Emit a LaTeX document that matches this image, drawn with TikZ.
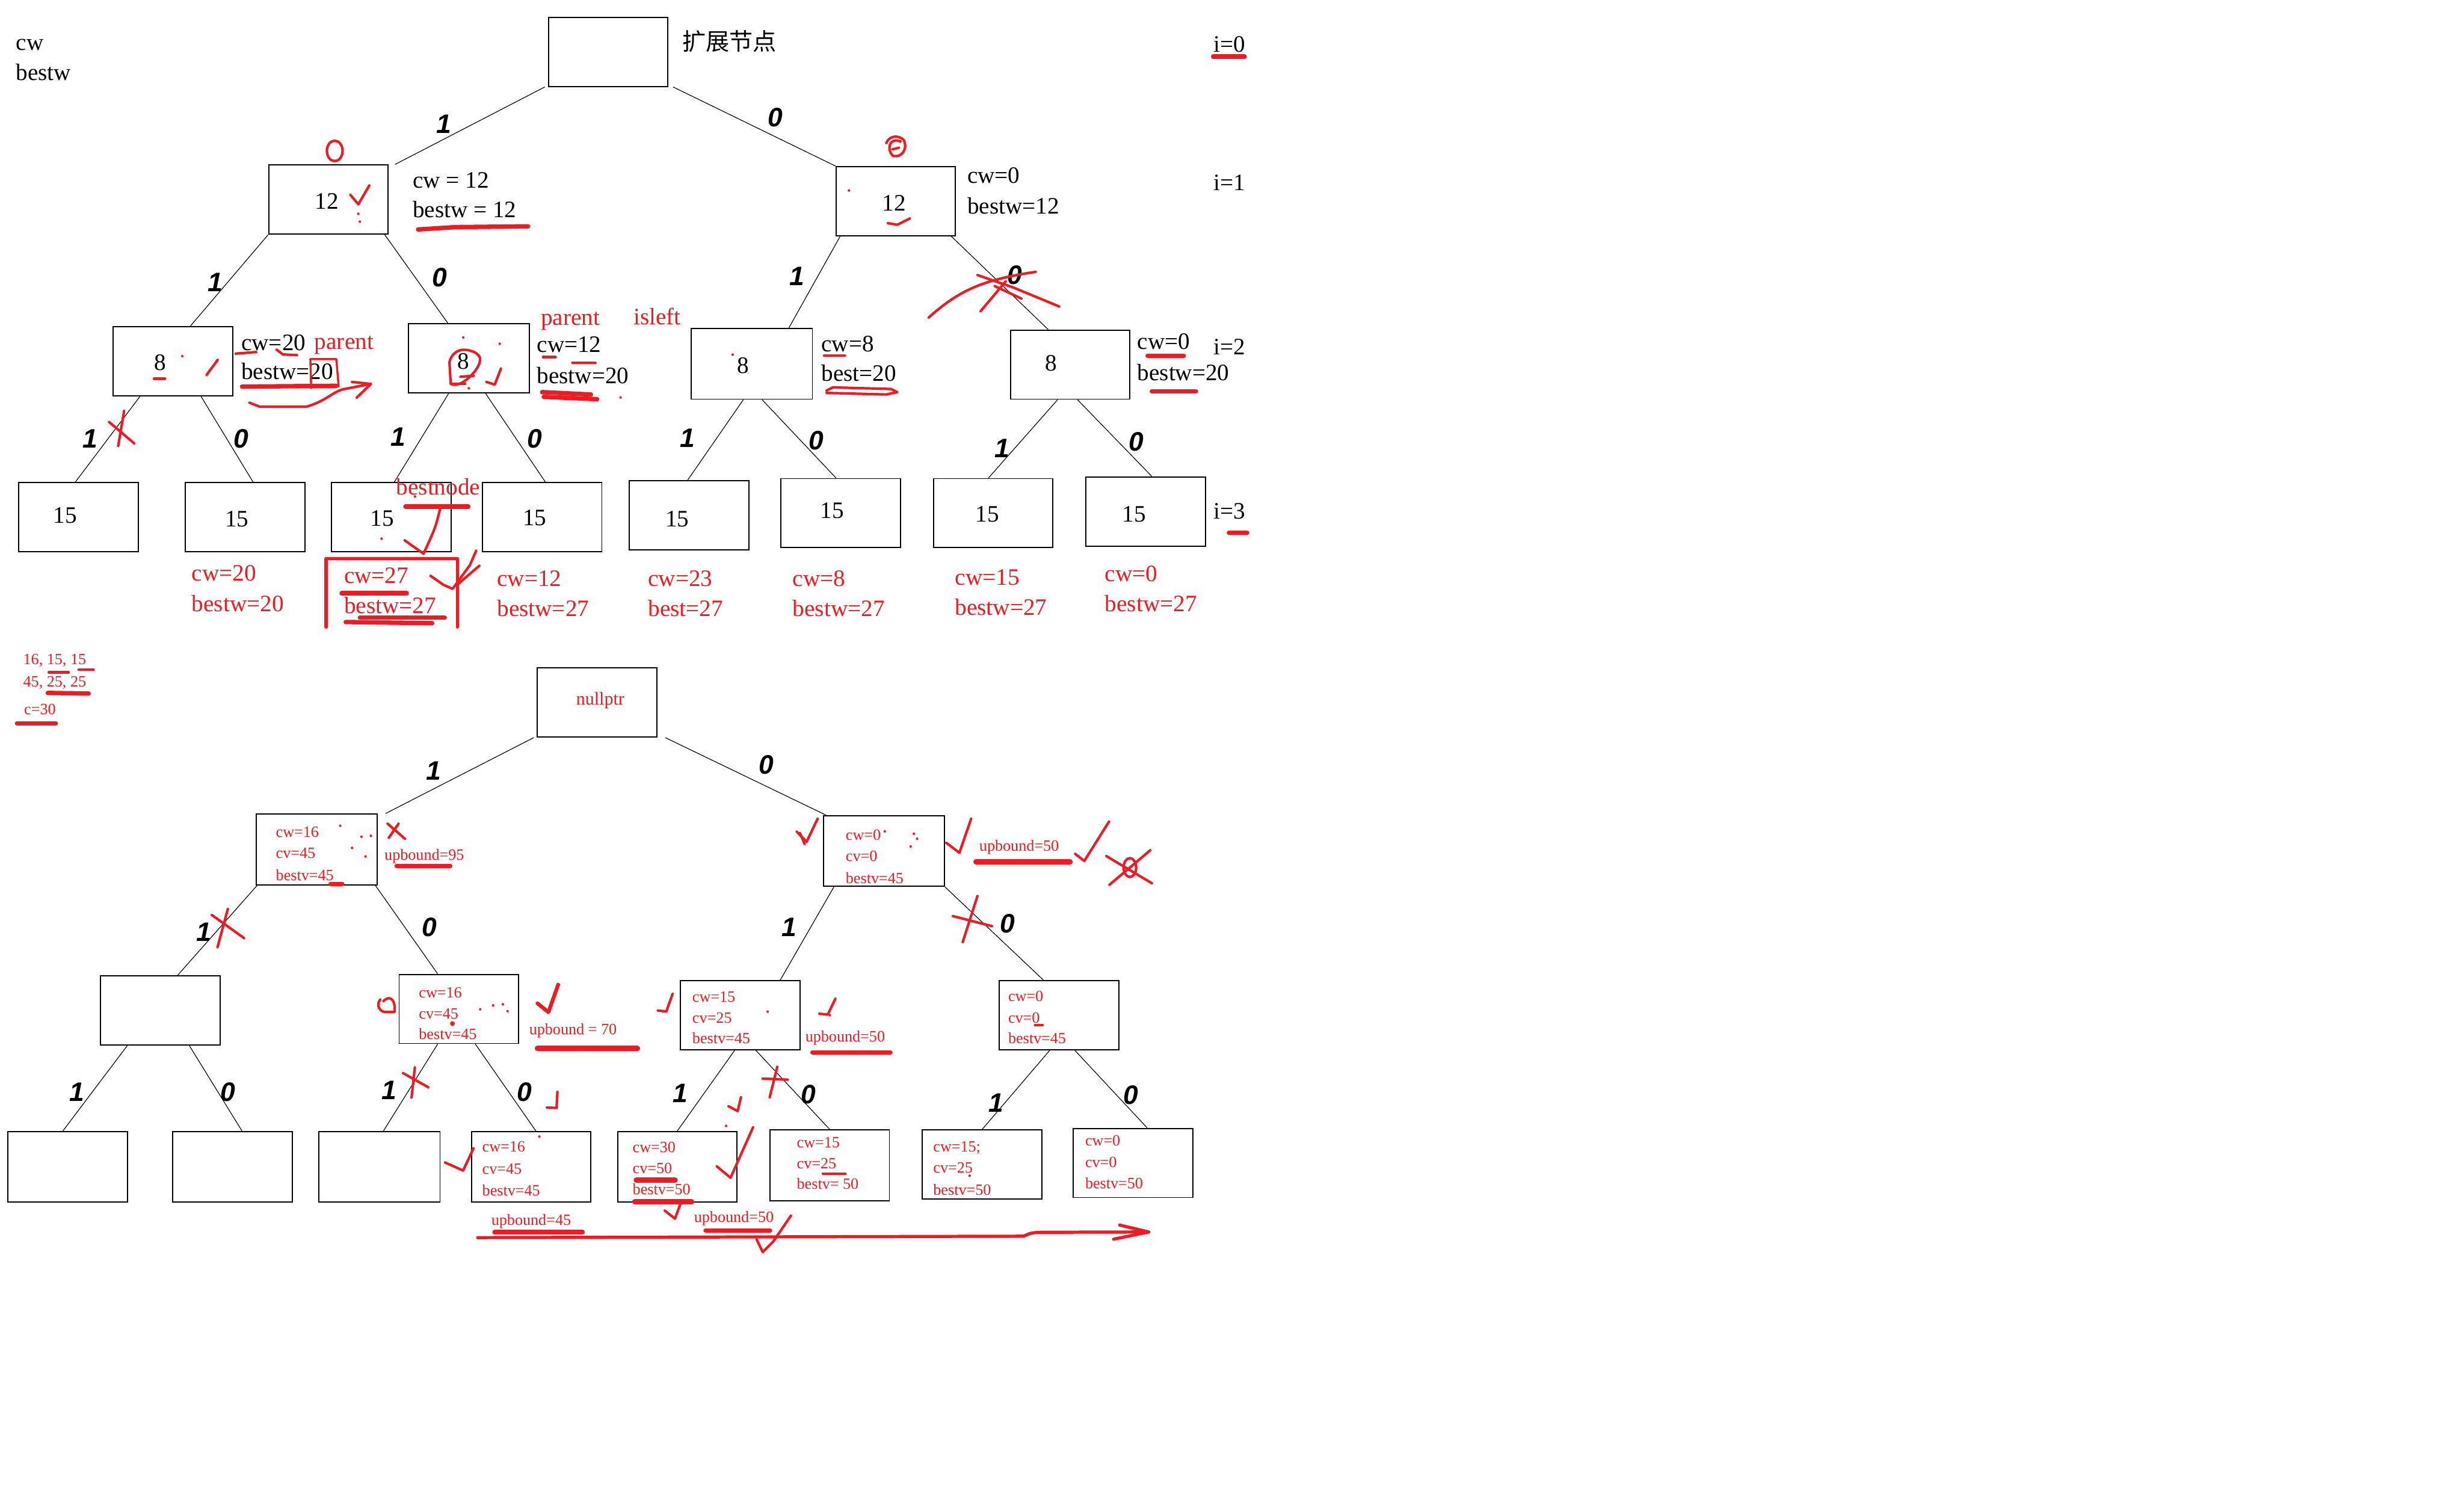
\documentclass[tikz,border=0pt]{standalone}
\usepackage{fontspec}
\setmainfont{Liberation Serif}
\newfontfamily\cjkfont{Noto Sans CJK SC}
\newfontfamily\bitfont{Liberation Sans}
\definecolor{pred}{RGB}{237,28,36}
\tikzset{
  box/.style={draw, line width=0.7pt, minimum width=76pt, minimum height=44pt, inner sep=0pt},
  wide/.style={minimum width=77pt, minimum height=45pt},
  num/.style={anchor=base, yshift=-5pt, inner sep=0pt, font=\fontsize{15}{18}\selectfont},
  note/.style={anchor=base west, yshift=-5pt, inner sep=0pt, font=\fontsize{15}{18}\selectfont},
  rnote/.style={note, text=pred},
  rsmall/.style={anchor=base west, yshift=-3.4pt, inner sep=0pt, text=pred, font=\fontsize{10}{12}\selectfont},
  bit/.style={anchor=base, yshift=-6pt, inner sep=0pt, font=\bitfont\bfseries\itshape\fontsize{17}{20}\selectfont},
  branch/.style={line width=0.45pt},
  ink/.style={draw=pred, line width=1.6pt, line cap=round, line join=round},
  fat/.style={ink, line width=2.8pt},
}

\begin{document}
\begin{tikzpicture}[x=1pt,y=-1pt]
  \useasboundingbox (0,0) rectangle (1568,951);

  % ---------- first tree: cw / bestw ----------
  \node[note] (cwhead) at (10,27) {cw};
  \node[note] (bwhead) at (10,46) {bestw};
  \node[note] (ext) at (434,27) {\cjkfont 扩展节点};
  \node[note] (i0) at (772,28) {i=0};
  \node[note] (i1) at (772,116) {i=1};
  \node[note] (i2) at (772,220.5) {i=2};
  \node[note] (i3) at (772,325) {i=3};

  \node[box] (root) at (387,33) {};
  \node[box] (l1) at (209,127) {};
  \node[box] (r1) at (570,128) {};
  \node[box] (a) at (110,230) {};
  \node[box,minimum width=77pt] (b) at (298.5,228) {};
  \node[box,wide] (c) at (478.5,231.5) {};
  \node[box] (d) at (681,232) {};
  \node[box] (a3) at (50,329) {};
  \node[box] (b3) at (156,329) {};
  \node[box] (c3) at (249,329) {};
  \node[box] (d3) at (345,329) {};
  \node[box] (e3) at (438.5,328) {};
  \node[box] (f3) at (535,326.5) {};
  \node[box] (g3) at (632,326.5) {};
  \node[box] (h3) at (729,325.5) {};

  \node[num] (l1v) at (208,128) {12};
  \node[num] (r1v) at (569,129) {12};
  \node[num] (av) at (102,230.5) {8};
  \node[num] (bv) at (295,230) {8};
  \node[num] (cv) at (473,232.5) {8};
  \node[num] (dv) at (669,231) {8};
  \node[num] (a3v) at (41.4,328) {15};
  \node[num] (b3v) at (150.7,330) {15};
  \node[num] (c3v) at (243.3,329.6) {15};
  \node[num] (d3v) at (340.2,329.3) {15};
  \node[num] (e3v) at (431,330) {15};
  \node[num] (f3v) at (529.6,324.7) {15};
  \node[num] (g3v) at (628.4,327.2) {15};
  \node[num] (h3v) at (721.6,327.2) {15};

  \draw[branch] ([xshift=-2pt]root.south west) -- ([xshift=4pt]l1.north east);
  \draw[branch] ([xshift=3pt]root.south east) -- (r1.north west);
  \draw[branch] (l1.south west) -- ([xshift=11pt]a.north);
  \draw[branch] ([xshift=-2.5pt]l1.south east) -- ([xshift=-13.5pt]b.north);
  \draw[branch] ([xshift=3pt]r1.south west) -- ([xshift=23.5pt]c.north);
  \draw[branch] ([xshift=-3pt]r1.south east) -- ([xshift=-14pt]d.north);
  \draw[branch] ([xshift=-21pt]a.south) -- ([xshift=-2pt]a3.north);
  \draw[branch] ([xshift=18pt]a.south) -- ([xshift=5pt]b3.north);
  \draw[branch] ([xshift=-13pt]b.south) -- ([xshift=2pt]c3.north);
  \draw[branch] ([xshift=10.5pt]b.south) -- ([xshift=2pt]d3.north);
  \draw[branch] ([xshift=-5.5pt]c.south) -- ([xshift=-1pt]e3.north);
  \draw[branch] ([xshift=6.5pt]c.south) -- ([xshift=-3pt]f3.north);
  \draw[branch] ([xshift=-8pt]d.south) -- ([xshift=-3pt]g3.north);
  \draw[branch] ([xshift=4.7pt]d.south) -- ([xshift=4pt]h3.north);

  \node[bit] (t0a) at (282.4,78.6) {1};
  \node[bit] (t0b) at (493.2,74.6) {0};
  \node[bit] (t1a) at (137,179.3) {1};
  \node[bit] (t1b) at (279.8,176.4) {0};
  \node[bit] (t1c) at (507,175.5) {1};
  \node[bit] (t1d) at (645.8,174.7) {0};
  \node[bit] (t2a) at (57.4,279) {1};
  \node[bit] (t2b) at (153.4,279) {0};
  \node[bit] (t2c) at (253.5,278) {1};
  \node[bit] (t2d) at (340.2,279) {0};
  \node[bit] (t2e) at (437.6,278.8) {1};
  \node[bit] (t2f) at (519.5,280.2) {0};
  \node[bit] (t2g) at (637.7,285.3) {1};
  \node[bit] (t2h) at (723,280.9) {0};

  \node[note] (l1cw) at (262.5,114.5) {cw = 12};
  \node[note] (l1bw) at (262.5,133.4) {bestw = 12};
  \node[note] (r1cw) at (615.4,111.5) {cw=0};
  \node[note] (r1bw) at (615.4,130.9) {bestw=12};
  \node[note] (acw) at (153.4,218) {cw=20};
  \node[note] (abw) at (153.4,236.4) {bestw=20};
  \node[rnote] (apar) at (200,217.4) {parent};
  \node[rnote] (bpar) at (344,202) {parent};
  \node[rnote] (bleft) at (403,201.5) {isleft};
  \node[note] (bcw) at (341.5,219.3) {cw=12};
  \node[note] (bbw) at (341.5,239) {bestw=20};
  \node[note] (ccw) at (522.5,218.8) {cw=8};
  \node[note] (cbw) at (522.5,237.6) {best=20};
  \node[note] (dcw) at (723.6,217.4) {cw=0};
  \node[note] (dbw) at (723.6,237) {bestw=20};
  \node[rnote] (bestnode) at (252,310) {bestnode};

  \node[rnote] (b3cw) at (121.9,364.6) {cw=20};
  \node[rnote] (b3bw) at (121.9,384) {bestw=20};
  \node[rnote] (c3cw) at (218.8,366.2) {cw=27};
  \node[rnote] (c3bw) at (218.8,385.3) {bestw=27};
  \node[rnote] (d3cw) at (316.2,368.1) {cw=12};
  \node[rnote] (d3bw) at (316.2,387.2) {bestw=27};
  \node[rnote] (e3cw) at (412.3,368) {cw=23};
  \node[rnote] (e3bw) at (412.3,387.2) {best=27};
  \node[rnote] (f3cw) at (504.3,368) {cw=8};
  \node[rnote] (f3bw) at (504.3,387.2) {bestw=27};
  \node[rnote] (g3cw) at (607.6,367.2) {cw=15};
  \node[rnote] (g3bw) at (607.6,386.4) {bestw=27};
  \node[rnote] (h3cw) at (703,364.8) {cw=0};
  \node[rnote] (h3bw) at (703,384.3) {bestw=27};

  % red pen marks, first tree
  \draw[fat] (772,36) -- (792,36);
  \draw[ink] (213,96) ellipse [x radius=5pt, y radius=6.5pt];
  \draw[ink] (223,124) -- (228,130) -- (235,118);
  \fill[pred] (228,136) circle (0.8pt) (229,141) circle (0.8pt);
  \draw[fat] (266,146) -- (290,144.5) -- (336,144);
  \draw[ink] (573,90) .. controls (566,87) and (564,95) .. (568,99) .. controls (574,101) and (578,94) .. (575,89) .. controls (572,86) and (566,86) .. (564,91);
  \draw[ink] (568,95) -- (572,94);
  \draw[ink] (565,142) -- (571,143) -- (579,139);
  \fill[pred] (540.2,121.2) circle (0.8pt);
  \draw[ink] (591,202) .. controls (610,185) and (625,178) .. (659,173);
  \draw[ink] (622,175) -- (645,183) -- (674,195);
  \draw[ink] (624,198) -- (640,179);
  \draw[ink] (633,182) -- (650,190);
  \draw[ink] (98,241) -- (105,241);
  \fill[pred] (116,226.6) circle (0.8pt);
  \draw[ink] (131.5,238.5) -- (138.5,229);
  \draw[ink] (150,225) -- (163,224);
  \draw[ink] (176,222.5) -- (180,225.5) -- (189,226);
  \draw[ink,line width=1.3pt] (198,247) -- (197.5,228.5) -- (214,228.5) -- (215.5,246);
  \draw[fat] (154,246) -- (214,245.5);
  \draw[ink] (158.7,256.2) -- (165.4,258.8) -- (194.8,258.8) .. controls (208,255) and (212,249) .. (218.8,247.6) -- (236,244.3);
  \draw[ink] (224,243) -- (236,244.3) -- (227,253);
  \draw[ink] (297.5,241) .. controls (292,246) and (287,245) .. (286.8,244) -- (286,230.5) .. controls (287,225) and (292,222) .. (296,222.6) .. controls (302,223) and (306,226) .. (305.5,229.2) .. controls (305,234) and (300,239) .. (297.5,241);
  \draw[ink] (286.8,244.3) -- (296,244.3);
  \draw[ink] (293,239.7) -- (301.5,239.1);
  \draw[ink] (309.5,243) -- (314.8,244.7) -- (318.8,234.5);
  \fill[pred] (294.8,214.7) circle (0.8pt) (318,218.7) circle (0.8pt) (298.3,247) circle (0.8pt) (394.9,252.9) circle (0.8pt);
  \draw[ink] (345.5,227.2) -- (353.5,227.2);
  \draw[ink] (364.2,230.8) -- (378.9,230.8);
  \draw[fat] (345,249.5) -- (376,251);
  \draw[fat] (346,252.5) -- (380,254);
  \fill[pred] (466.2,225.6) circle (0.8pt);
  \draw[ink] (524.4,226.3) -- (537.7,226.3);
  \draw[ink] (526,248.5) -- (530,246.5) -- (567,247.5) -- (571,249.5) -- (564,251) -- (526,250);
  \draw[fat] (730.3,226.3) -- (753.3,226.3);
  \draw[fat] (733,249) -- (761,249);
  \draw[fat] (782,339) -- (793.6,339);
  \draw[ink] (69.4,268.5) -- (85.4,282.1);
  \draw[ink] (79,261.4) -- (75.2,283.7);
  \draw[fat] (258,322.3) -- (298,322.3);
  \draw[ink] (280,324) .. controls (277,336) .. (269.5,352.3) -- (257.5,343.8);
  \fill[pred] (264.1,315.9) circle (0.8pt) (242.8,342.7) circle (0.8pt);
  \draw[ink,line width=2pt] (207.5,399) -- (207.5,355.5) -- (291,355.5) -- (291,399);
  \draw[fat] (217.4,377.4) -- (258.8,377.4);
  \draw[fat] (229,393) -- (283,393);
  \draw[fat] (220,395.8) -- (275,396.5);
  \draw[ink] (274,366.4) -- (282,372) -- (288,374.7) -- (299,359.6) -- (303,350.4);
  \draw[ink] (291,372) -- (305,360);

  % ---------- second tree: cw / cv / bestv ----------
  \node[rsmall] (wlist) at (14.6,419.5) {16, 15, 15};
  \node[rsmall] (vlist) at (14.6,433.5) {45, 25, 25};
  \node[rsmall] (cap) at (15.2,451.3) {c=30};

  \node[box] (top) at (380,447) {};
  \node[anchor=base, yshift=-3.6pt, inner sep=0pt, text=pred, font=\fontsize{11.5}{13}\selectfont] (nil) at (382,444.7) {nullptr};
  \node[box,wide] (p) at (201.5,540.5) {};
  \node[box,wide] (q) at (562.5,541.5) {};
  \node[box] (p1) at (102,643) {};
  \node[box] (p2) at (292,642) {};
  \node[box] (q1) at (471,646) {};
  \node[box] (q2) at (674,646) {};
  \node[box,minimum height=45pt] (n1) at (43,742.5) {};
  \node[box,minimum height=45pt] (n2) at (148,742.5) {};
  \node[box,wide] (n3) at (241.5,742.5) {};
  \node[box,minimum height=45pt] (n4) at (338,742.5) {};
  \node[box,minimum height=45pt] (n5) at (431,742.5) {};
  \node[box,minimum height=45pt] (n6) at (528,741.5) {};
  \node[box] (n7) at (625,741) {};
  \node[box] (n8) at (721,740) {};

  \draw[branch] ([xshift=-2pt]top.south west) -- ([xshift=5pt]p.north east);
  \draw[branch] ([xshift=5pt]top.south east) -- ([xshift=2pt]q.north west);
  \draw[branch] ([xshift=1pt]p.south west) -- ([xshift=11pt]p1.north);
  \draw[branch] ([xshift=-1.5pt]p.south east) -- ([xshift=-13.5pt]p2.north);
  \draw[branch] ([xshift=7pt]q.south west) -- ([xshift=25.5pt]q1.north);
  \draw[branch] (q.south east) -- ([xshift=-10pt]q2.north);
  \draw[branch] ([xshift=-21pt]p1.south) -- ([xshift=-3pt]n1.north);
  \draw[branch] ([xshift=18.5pt]p1.south) -- ([xshift=6pt]n2.north);
  \draw[branch] ([xshift=-13.5pt]p2.south) -- ([xshift=2.5pt]n3.north);
  \draw[branch] ([xshift=10.5pt]p2.south) -- ([xshift=3pt]n4.north);
  \draw[branch] ([xshift=-3.5pt]q1.south) -- (n5.north);
  \draw[branch] ([xshift=10pt]q1.south) -- (n6.north);
  \draw[branch] ([xshift=-6pt]q2.south) -- (n7.north);
  \draw[branch] ([xshift=10pt]q2.south) -- ([xshift=9pt]n8.north);

  \node[bit] (s0a) at (275.9,490.2) {1};
  \node[bit] (s0b) at (487.7,486.3) {0};
  \node[bit] (s1a) at (129.7,593) {1};
  \node[bit] (s1b) at (273.3,590) {0};
  \node[bit] (s1c) at (502,590) {1};
  \node[bit] (s1d) at (641,587.7) {0};
  \node[bit] (s2a) at (49.1,694.7) {1};
  \node[bit] (s2b) at (145,694.7) {0};
  \node[bit] (s2c) at (247.6,693.7) {1};
  \node[bit] (s2d) at (333.8,694.7) {0};
  \node[bit] (s2e) at (432.8,695.3) {1};
  \node[bit] (s2f) at (514.4,696.3) {0};
  \node[bit] (s2g) at (634,701.6) {1};
  \node[bit] (s2h) at (719.6,696.7) {0};

  \node[rsmall] (pcw) at (175.4,529.2) {cw=16};
  \node[rsmall] (pcv) at (175.4,542.7) {cv=45};
  \node[rsmall] (pbv) at (175.4,556.7) {bestv=45};
  \node[rsmall] (pub) at (244.5,544) {upbound=95};
  \node[rsmall] (qcw) at (538,531.1) {cw=0};
  \node[rsmall] (qcv) at (538,544.6) {cv=0};
  \node[rsmall] (qbv) at (538,558.6) {bestv=45};
  \node[rsmall] (qub) at (623,538) {upbound=50};
  \node[rsmall] (p2cw) at (266.4,631.5) {cw=16};
  \node[rsmall] (p2cv) at (266.4,644.7) {cv=45};
  \node[rsmall] (p2bv) at (266.4,657.8) {bestv=45};
  \node[rsmall] (p2ub) at (336.6,655) {upbound = 70};
  \node[rsmall] (q1cw) at (440.4,634.3) {cw=15};
  \node[rsmall] (q1cv) at (440.4,647.4) {cv=25};
  \node[rsmall] (q1bv) at (440.4,660.6) {bestv=45};
  \node[rsmall] (q1ub) at (512.3,659.4) {upbound=50};
  \node[rsmall] (q2cw) at (641.4,633.7) {cw=0};
  \node[rsmall] (q2cv) at (641.4,647.4) {cv=0};
  \node[rsmall] (q2bv) at (641.4,660.6) {bestv=45};
  \node[rsmall] (n4cw) at (306.7,729.6) {cw=16};
  \node[rsmall] (n4cv) at (306.7,743.5) {cv=45};
  \node[rsmall] (n4bv) at (306.7,757.4) {bestv=45};
  \node[rsmall] (n4ub) at (312.5,776.3) {upbound=45};
  \node[rsmall] (n5cw) at (402.4,729.8) {cw=30};
  \node[rsmall] (n5cv) at (402.4,743.1) {cv=50};
  \node[rsmall] (n5bv) at (402.4,756.5) {bestv=50};
  \node[rsmall] (n5ub) at (441.5,774.1) {upbound=50};
  \node[rsmall] (n6cw) at (506.9,726.7) {cw=15};
  \node[rsmall] (n6cv) at (506.9,740.2) {cv=25};
  \node[rsmall] (n6bv) at (506.9,753.2) {bestv= 50};
  \node[rsmall] (n7cw) at (593.7,729.6) {cw=15;};
  \node[rsmall] (n7cv) at (593.7,742.8) {cv=25};
  \node[rsmall] (n7bv) at (593.7,756.9) {bestv=50};
  \node[rsmall] (n8cw) at (690.4,725.8) {cw=0};
  \node[rsmall] (n8cv) at (690.4,739.4) {cv=0};
  \node[rsmall] (n8bv) at (690.4,752.8) {bestv=50};

  % red pen marks, second tree
  \draw[ink] (31,427.8) -- (43.7,427.8);
  \draw[ink] (50,426.2) -- (59.6,426.2);
  \draw[fat] (30.4,440.9) -- (56.4,441.3);
  \draw[fat] (10.8,460.2) -- (35.5,460.2);
  \draw[ink] (246.6,524.1) -- (257.7,533.7);
  \draw[ink] (253.6,524.1) -- (247.4,533.1);
  \draw[fat] (252.4,551) -- (286.5,551);
  \fill[pred] (216.5,525.4) circle (0.8pt) (230,532.4) circle (0.8pt) (236,531.8) circle (0.8pt) (224,539.5) circle (0.8pt) (232.6,545) circle (0.8pt);
  \draw[fat] (210.4,562.5) -- (217.8,562.5);
  \draw[ink] (507,529.2) -- (513.3,535.6) -- (520.3,520.9);
  \draw[ink] (509,530) -- (512,537);
  \draw[ink] (602.2,536.3) -- (610.5,542.6) -- (618,520.9);
  \draw[fat,line width=3.2pt] (621,548.4) -- (681,548.4);
  \draw[ink] (684.2,543.3) -- (690,547.8) -- (705.7,522.8);
  \draw[ink] (706,563) -- (732,541);
  \draw[ink] (704,544.7) -- (733,562);
  \draw[ink] (719,552) ellipse [x radius=4pt, y radius=6pt];
  \fill[pred] (563,529) circle (0.8pt) (581.5,530.5) circle (0.8pt) (583.6,533.7) circle (0.8pt) (579.5,538.6) circle (0.8pt);
  \draw[ink] (622,570.1) -- (612.6,599.5);
  \draw[ink] (606.4,582.9) -- (631.2,589.3);
  \draw[ink] (134.8,582.2) -- (155.3,596.9);
  \draw[ink] (145,578.3) -- (138.4,602.7);
  \draw[ink] (244,637) .. controls (249,632) and (252,638) .. (251,644) -- (245,644) .. controls (240,643) and (240,638) .. (242,636);
  \draw[ink,line width=2.4pt] (342,638.4) -- (349,644) -- (355.2,626.5);
  \fill[pred] (305.6,642.2) circle (0.8pt) (313.8,639.7) circle (0.8pt) (320,639) circle (0.8pt) (323,643.4) circle (0.8pt) (287.9,651.3) circle (1.5pt);
  \draw[fat,line width=3.4pt] (342,667.2) -- (405.6,667.2);
  \draw[ink] (418.6,643) -- (424,643.6) -- (428,632.4);
  \draw[ink] (521.4,645) -- (526.7,645.6) -- (531.6,635.5);
  \fill[pred] (488.5,643.7) circle (0.8pt) (528,646) circle (0.8pt);
  \draw[fat] (517,669.6) -- (566.6,669.6);
  \draw[ink] (658.6,652.2) -- (663.4,652.2);
  \draw[ink] (494.6,678.8) -- (489.8,698.2);
  \draw[ink] (485.3,686.3) -- (501.3,687);
  \draw[ink] (463.6,703.9) -- (469.4,707) -- (471.5,698.2);
  \fill[pred] (462,716.4) circle (0.8pt);
  \draw[ink] (456.1,742.1) -- (464.9,749.4) -- (479.2,717.3);
  \draw[fat,line width=3.6pt] (405,750.9) -- (429.5,750.9);
  \draw[fat,line width=3.6pt] (404,764.7) -- (440,764.7);
  \draw[ink] (423,770.3) -- (429.5,775.4) -- (433.5,764.7);
  \draw[fat] (449,782.9) -- (490,782.9);
  \draw[fat] (314.7,784) -- (370.7,784);
  \draw[ink,line width=2pt] (304,787.5) -- (651.4,786.6) .. controls (656,784.5) .. (662,784.1) -- (731,783.9);
  \draw[ink,line width=2pt] (712.5,779.5) -- (731,783.9) -- (708.6,788.5);
  \draw[ink] (481.4,788.5) -- (485.4,796.7) -- (492.2,789.8) -- (503.3,773.5);
  \draw[ink] (283.2,739.7) -- (294.7,744.8) -- (301.3,730.7);
  \fill[pred] (343.2,723.2) circle (0.8pt) (617,748.1) circle (0.8pt);
  \draw[ink] (354.7,694.7) -- (354.2,705) -- (348,704.7);
  \draw[ink] (256.5,682.8) -- (272.5,691.8);
  \draw[ink] (264,679.2) -- (261.9,698.3);
  \draw[ink] (523.6,746.8) -- (538,746.8);
\end{tikzpicture}
\end{document}
